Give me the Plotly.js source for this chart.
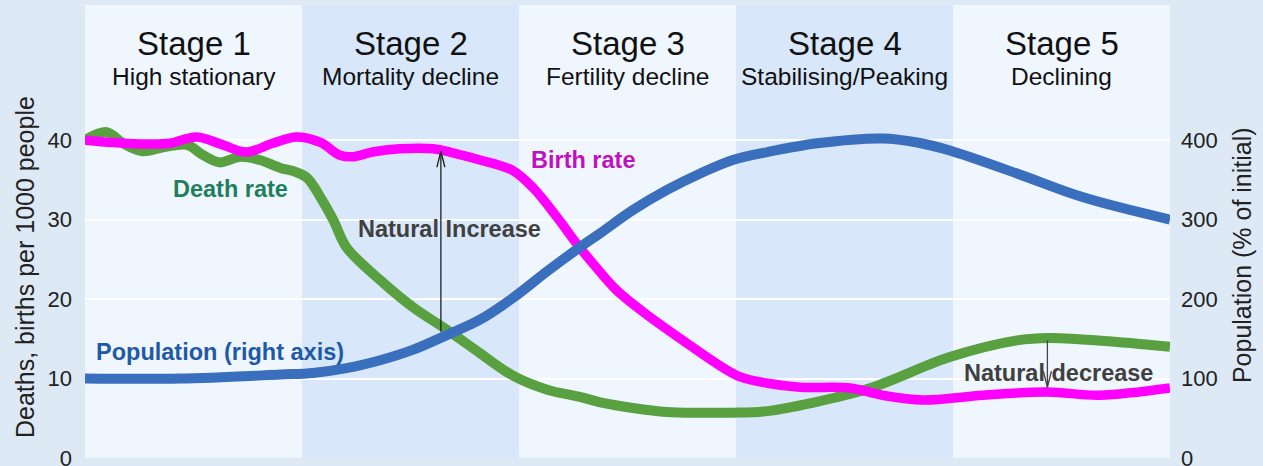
<!DOCTYPE html>
<html>
<head>
<meta charset="utf-8">
<script src="https://cdn.plot.ly/plotly-3.0.1.min.js"></script>
<style>html,body{margin:0;padding:0;background:#dde9f5;}#chart{width:1263px;height:466px;}</style>
</head>
<body>
<div id="chart"></div>
<script>
// Stage bands (x in % of transition timeline)
const stageNames = ["Stage 1", "Stage 2", "Stage 3", "Stage 4", "Stage 5"];
const stageSubtitles = ["High stationary", "Mortality decline", "Fertility decline", "Stabilising/Peaking", "Declining"];
const stageStarts = [0, 20, 40, 60, 80];
const stageEnds = [20, 40, 60, 80, 100];

// Birth rate (per 1000)
const birthX = [0, 2.6, 5.7, 7.8, 10.3, 12.7, 14.9, 17.3, 19.5, 21.7, 23.5, 24.7, 26.5, 29.0, 32.1, 33.9, 36.4, 39.4, 41.3, 43.5, 45.3, 46.8, 49.0, 52.1, 55.1, 58.2, 60.4, 62.9, 65.9, 70.5, 73.5, 77.2, 82.8, 88.7, 93.5, 100];
const birthY = [40.0, 39.7, 39.5, 39.6, 40.4, 39.4, 38.5, 39.6, 40.4, 39.7, 38.1, 37.9, 38.5, 38.9, 38.9, 38.4, 37.5, 36.2, 34.0, 30.3, 27.0, 24.5, 21.1, 17.7, 14.8, 11.9, 10.2, 9.4, 8.9, 8.8, 7.9, 7.3, 7.9, 8.3, 7.9, 8.8];

// Death rate (per 1000)
const deathX = [0, 2.0, 3.5, 5.3, 7.2, 9.4, 10.9, 12.4, 14.3, 16.1, 18.0, 19.4, 20.5, 21.7, 22.9, 24.1, 27.2, 30.2, 33.4, 36.4, 39.4, 42.6, 45.6, 47.5, 50.5, 53.6, 56.7, 59.7, 62.9, 66.9, 72.4, 79.7, 85.9, 88.9, 95.1, 100];
const deathY = [40.0, 41.0, 39.6, 38.6, 39.1, 39.4, 38.1, 37.2, 37.9, 37.5, 36.5, 36.0, 35.2, 32.8, 29.9, 26.5, 22.4, 19.0, 16.1, 13.2, 10.4, 8.6, 7.7, 7.0, 6.3, 5.8, 5.7, 5.7, 5.9, 6.9, 8.8, 12.7, 14.8, 15.1, 14.6, 14.0];

// Population (% of initial, right axis)
const popX = [0, 8.8, 18.0, 21.0, 24.1, 27.2, 30.2, 33.4, 36.4, 39.4, 42.6, 45.6, 47.5, 50.5, 53.6, 56.7, 59.7, 62.9, 67.5, 73.5, 76.7, 79.7, 85.9, 92.0, 100];
const popY = [100, 100, 105, 107, 113, 123, 136, 155, 174, 201, 235, 265, 283, 312, 337, 358, 375, 385, 396, 402, 397, 387, 358, 328, 300];

const leftTicks = [0, 10, 20, 30, 40];
const rightTicks = [0, 100, 200, 300, 400];

const FONT = "Liberation Sans, Arial, sans-serif";

const traces = [
  {x: popX, y: popY, yaxis: "y2", mode: "lines", line: {color: "#3a6fbe", width: 10, shape: "spline", smoothing: 1}, hoverinfo: "skip"},
  {x: deathX, y: deathY, mode: "lines", line: {color: "#58a040", width: 10, shape: "spline", smoothing: 1}, hoverinfo: "skip"},
  {x: birthX, y: birthY, mode: "lines", line: {color: "#ff00ff", width: 9.5, shape: "spline", smoothing: 1}, hoverinfo: "skip"}
];

const shapes = [];
const annotations = [];
stageNames.forEach((n, i) => {
  if (i % 2 === 1) {
    shapes.push({type: "rect", layer: "below", xref: "x", yref: "paper", x0: stageStarts[i], x1: stageEnds[i], y0: 0, y1: 1, fillcolor: "#d8e7f9", line: {width: 0}});
  }
  const cx = (stageStarts[i] + stageEnds[i]) / 2;
  annotations.push({x: cx, xref: "x", y: 0.916, yref: "paper", xanchor: "center", yanchor: "middle", text: n, showarrow: false, font: {family: FONT, size: 33, color: "#111"}});
  annotations.push({x: cx, xref: "x", y: 0.843, yref: "paper", xanchor: "center", yanchor: "middle", text: stageSubtitles[i], showarrow: false, font: {family: FONT, size: 24.5, color: "#111"}});
});

// arrows
annotations.push({x: 32.8, y: 38.6, xref: "x", yref: "y", ax: 32.8, ay: 15.7, axref: "x", ayref: "y", showarrow: true, arrowhead: 0, arrowwidth: 1.3, arrowcolor: "#222", text: ""});
annotations.push({x: 88.7, y: 8.9, xref: "x", yref: "y", ax: 88.7, ay: 15.0, axref: "x", ayref: "y", showarrow: true, arrowhead: 0, arrowwidth: 1.3, arrowcolor: "#444", text: ""});
shapes.push({type: "path", layer: "above", xref: "x", yref: "y", xsizemode: "pixel", ysizemode: "pixel", xanchor: 32.8, yanchor: 38.6, path: "M -4 -16 L 0 0 L 4 -16", line: {color: "#222", width: 1.3}});
shapes.push({type: "path", layer: "above", xref: "x", yref: "y", xsizemode: "pixel", ysizemode: "pixel", xanchor: 88.7, yanchor: 8.9, path: "M -4 16 L 0 0 L 4 16", line: {color: "#444", width: 1.3}});

// labels
const lab = (x, y, t, c) => ({x: x, y: y, xref: "x", yref: "y", xanchor: "center", yanchor: "middle", text: "<b>" + t + "</b>", showarrow: false, font: {family: FONT, size: 23.5, color: c}});
annotations.push(lab(13.4, 33.8, "Death rate", "#1e7f5c"));
annotations.push(lab(45.9, 37.5, "Birth rate", "#c010c0"));
annotations.push(lab(33.6, 28.8, "Natural Increase", "#404040"));
annotations.push(lab(12.4, 13.3, "Population (right axis)", "#1f5aa8"));
annotations.push(lab(89.7, 10.7, "Natural decrease", "#404040"));

// axis titles (placed as rotated text, matching the reference offsets)
annotations.push({x: -0.0553, y: 0.4216, xref: "paper", yref: "paper", xanchor: "center", yanchor: "middle", textangle: -90, showarrow: false,
  text: "Deaths, births per 1000 people", font: {family: FONT, size: 25, color: "#222"}});
annotations.push({x: 1.0664, y: 0.448, xref: "paper", yref: "paper", xanchor: "center", yanchor: "middle", textangle: -90, showarrow: false,
  text: "Population (% of initial)", font: {family: FONT, size: 25, color: "#222"}});

const layout = {
  width: 1263, height: 466,
  margin: {l: 85, r: 93, t: 5, b: 8},
  paper_bgcolor: "#dde9f5",
  plot_bgcolor: "#eff6fd",
  showlegend: false,
  font: {family: FONT, size: 22, color: "#222"},
  xaxis: {range: [0, 100], showgrid: false, zeroline: false, showticklabels: false, ticks: "", fixedrange: true},
  yaxis: {range: [0, 57], tickvals: leftTicks, showgrid: true, gridcolor: "#ffffff", gridwidth: 2, zeroline: false, ticks: "",
    ticklabeloverflow: "allow", ticklabelstandoff: 12, tickfont: {size: 22, color: "#222"}},
  yaxis2: {range: [0, 570], tickvals: rightTicks, overlaying: "y", side: "right", showgrid: false, zeroline: false, ticks: "",
    ticklabeloverflow: "allow", ticklabelstandoff: 10, tickfont: {size: 22, color: "#222"}},
  shapes: shapes,
  annotations: annotations
};

Plotly.newPlot("chart", traces, layout, {staticPlot: true, displayModeBar: false});
</script>
</body>
</html>
